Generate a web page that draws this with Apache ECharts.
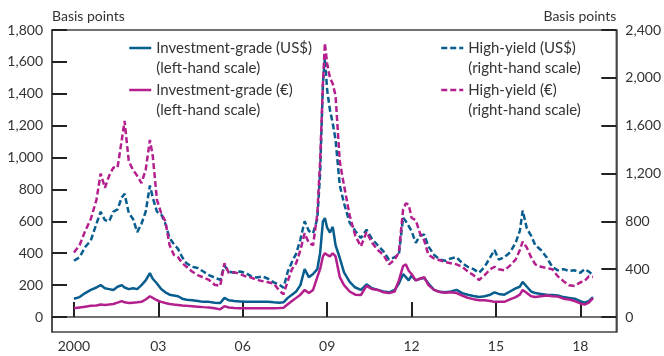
<!DOCTYPE html>
<html>
<head>
<meta charset="utf-8">
<script src="https://cdn.jsdelivr.net/npm/echarts@6/dist/echarts.min.js"></script>
<style>
  html, body { margin: 0; padding: 0; background: #fff; }
  #chart { width: 664px; height: 356px; }
</style>
</head>
<body>
<div id="chart"></div>
<script>
// dates as decimal years
const dates = [
  2000.0, 2000.2, 2000.4, 2000.6, 2000.8, 2000.95, 2001.1, 2001.25, 2001.4, 2001.55,
  2001.7, 2001.8, 2001.95, 2002.1, 2002.25, 2002.4, 2002.55, 2002.7, 2002.8, 2002.95,
  2003.1, 2003.25, 2003.4, 2003.55, 2003.7, 2003.85, 2004.0, 2004.2, 2004.4, 2004.6,
  2004.8, 2005.0, 2005.2, 2005.35, 2005.5, 2005.7, 2005.9, 2006.1, 2006.3, 2006.5,
  2006.7, 2006.9, 2007.1, 2007.3, 2007.45, 2007.6, 2007.75, 2007.9, 2008.05, 2008.2,
  2008.35, 2008.5, 2008.65, 2008.75, 2008.85, 2008.92, 2009.0, 2009.1, 2009.2, 2009.3,
  2009.45, 2009.6, 2009.8, 2010.0, 2010.2, 2010.4, 2010.6, 2010.8, 2011.0, 2011.2,
  2011.4, 2011.55, 2011.7, 2011.8, 2011.9, 2012.0, 2012.15, 2012.3, 2012.45, 2012.6,
  2012.8, 2013.0, 2013.2, 2013.4, 2013.6, 2013.8, 2014.0, 2014.2, 2014.4, 2014.6,
  2014.8, 2014.95, 2015.1, 2015.3, 2015.5, 2015.7, 2015.85, 2015.95, 2016.1, 2016.25,
  2016.4, 2016.6, 2016.8, 2017.0, 2017.2, 2017.4, 2017.6, 2017.8, 2018.0, 2018.15,
  2018.3, 2018.45
]

// left-hand scale
const igUsd = [
  115, 125, 150, 170, 185, 200, 180, 175, 170, 190,
  200, 185, 175, 180, 175, 200, 230, 275, 240, 210,
  175, 155, 140, 135, 130, 115, 108, 105, 100, 95,
  95, 90, 88, 120, 105, 100, 98, 95, 95, 95,
  95, 95, 92, 90, 92, 120, 140, 160, 200, 300,
  250, 270, 300, 400, 600, 620, 560, 530, 565, 450,
  370, 280, 220, 185, 170, 205, 180, 170, 160, 155,
  170, 210, 270, 250, 230, 260, 230, 240, 245, 210,
  170, 158, 155, 160, 170, 150, 140, 132, 125, 130,
  140, 155, 145, 140, 160, 180, 190, 220, 190, 160,
  150, 145, 140, 138, 135, 125, 120, 115, 100, 90,
  100, 125
]
const igEur = [
  55, 60, 65, 70, 72, 78, 75, 78, 82, 90,
  100, 92, 88, 90, 92, 95, 110, 130, 120, 105,
  95, 88, 82, 78, 75, 72, 70, 68, 65, 62,
  60, 55, 48, 68, 60, 56, 55, 55, 55, 55,
  55, 55, 55, 56, 58, 80, 100, 120, 140, 170,
  150, 170, 250, 300, 380, 400, 390, 380, 400, 380,
  250, 200, 160, 140, 138, 195, 175, 170, 155, 150,
  160, 230, 320, 330, 290, 270, 230, 240, 250, 200,
  170, 157, 152, 155, 150, 135, 120, 112, 105, 105,
  100, 95, 95, 95, 110, 125, 140, 170, 150, 130,
  125, 130, 135, 130, 128, 115, 110, 100, 85, 78,
  90, 118
]

// right-hand scale
const hyUsd = [
  470, 500, 585, 640, 780, 880, 810, 800, 880, 900,
  1000, 1030, 870, 820, 710, 780, 880, 1100, 1000, 880,
  860, 780, 660, 610, 570, 500, 450, 420, 410, 380,
  350, 330, 310, 430, 380, 370, 380, 370, 340, 330,
  340, 320, 290, 270, 245, 380, 460, 530, 650, 800,
  720, 700, 820, 1200, 1950, 2170, 1900, 1730, 1620, 1480,
  1100, 950, 790, 720, 660, 730, 650, 600, 550, 480,
  500, 520, 830, 800, 760, 720, 620, 680, 690, 590,
  520, 480, 470, 490, 500, 450, 420, 400, 370, 420,
  500, 560, 480, 500, 540, 620, 720, 890, 740, 680,
  600, 560, 500, 420, 390, 400, 385, 390, 370, 400,
  380, 350
]
const hyEur = [
  540, 600, 720, 820, 980, 1200, 1080, 1180, 1250, 1250,
  1480, 1640, 1300, 1230, 1180, 1120, 1230, 1480, 1350, 980,
  870, 800, 600, 520, 500, 450, 420, 380, 350, 330,
  310, 270, 260, 450, 370, 375, 360, 340, 330, 310,
  300, 290, 280, 220, 190, 300, 400, 450, 560, 700,
  620, 600, 860, 1300, 1950, 2290, 2120, 2000, 1950, 1850,
  1300, 1100, 850, 680, 590, 710, 620, 560, 520, 440,
  480, 540, 900, 950, 940, 830, 810, 700, 640, 520,
  490, 475, 460, 450, 440, 420, 380, 350, 310, 350,
  400, 420, 400, 390, 430, 480, 560, 630, 580, 500,
  440, 420, 410, 400, 340, 300, 265, 260, 290, 300,
  340, 335
]

const xTicks = [2000, 2003, 2006, 2009, 2012, 2015, 2018]
const leftTicks = [0, 200, 400, 600, 800, 1000, 1200, 1400, 1600, 1800]
const rightTicks = [0, 400, 800, 1200, 1600, 2000, 2400]

const BLUE = '#075d8e'
const PINK = '#b41f8e'
const FONT = 'Lato'
const TXT = '#333'

const pairs = vals => dates.map((d, i) => [d, vals[i]])

// one legend per item so each two-line label can sit where it does in the original
const legendBox = (name, left, top) => ({
  left: left,
  top: top,
  padding: 0,
  itemWidth: 22,
  itemHeight: 10,
  data: [name],
  selectedMode: false,
  itemStyle: { opacity: 0 },
  lineStyle: { width: 2.5 },
  formatter: n => '\n' + n.split('|')[0] + '\n' + n.split('|')[1],
  textStyle: { fontFamily: FONT, fontSize: 15, color: TXT, lineHeight: 20 }
})

const names = [
  'Investment-grade (US$)|(left-hand scale)',
  'Investment-grade (€)|(left-hand scale)',
  'High-yield (US$)|(right-hand scale)',
  'High-yield (€)|(right-hand scale)'
]

const chart = echarts.init(document.getElementById('chart'), null, { renderer: 'canvas' })

chart.setOption({
  animation: false,
  backgroundColor: '#fff',
  grid: {
    left: 52, right: 47, top: 30, bottom: 24,
    show: true, borderColor: '#444', borderWidth: 1.5
  },
  legend: [
    legendBox(names[0], 128, 18),
    legendBox(names[1], 128, 60),
    legendBox(names[2], 440, 18),
    legendBox(names[3], 440, 60)
  ],
  xAxis: {
    type: 'value',
    min: 1999.22,
    max: 2019.28,
    axisLine: { show: true, lineStyle: { color: '#444', width: 1.5 } },
    axisTick: {
      show: true, inside: true, length: 15, customValues: xTicks,
      lineStyle: { color: '#222', width: 2 }
    },
    axisLabel: {
      customValues: xTicks,
      margin: 7,
      fontFamily: FONT, fontSize: 14, color: TXT,
      formatter: v => v === 2000 ? '2000' : String(v).slice(2)
    },
    splitLine: { show: false }
  },
  yAxis: [
    {
      type: 'value',
      min: -94,
      max: 1800,
      name: 'Basis points',
      nameLocation: 'end',
      nameGap: 14,
      nameTextStyle: { fontFamily: FONT, fontSize: 14, color: TXT, align: 'left', verticalAlign: 'middle' },
      axisLine: { show: true, lineStyle: { color: '#444', width: 1.5 } },
      axisTick: {
        show: true, inside: true, length: 15, customValues: leftTicks,
        lineStyle: { color: '#222', width: 2 }
      },
      axisLabel: {
        customValues: leftTicks,
        margin: 9,
        fontFamily: FONT, fontSize: 14, color: TXT,
        formatter: v => v.toLocaleString('en-US')
      },
      splitLine: { show: false }
    },
    {
      type: 'value',
      min: -125.4,
      max: 2400,
      position: 'right',
      name: 'Basis points',
      nameLocation: 'end',
      nameGap: 14,
      nameTextStyle: { fontFamily: FONT, fontSize: 14, color: TXT, align: 'right', verticalAlign: 'middle' },
      axisLine: { show: true, lineStyle: { color: '#444', width: 1.5 } },
      axisTick: {
        show: true, inside: true, length: 15, customValues: rightTicks,
        lineStyle: { color: '#222', width: 2 }
      },
      axisLabel: {
        customValues: rightTicks,
        margin: 9,
        fontFamily: FONT, fontSize: 14, color: TXT,
        formatter: v => v.toLocaleString('en-US')
      },
      splitLine: { show: false }
    }
  ],
  series: [
    {
      name: names[0], type: 'line', yAxisIndex: 0, data: pairs(igUsd),
      showSymbol: false, symbol: 'none', z: 3,
      lineStyle: { color: BLUE, width: 2.5 }, itemStyle: { color: BLUE }
    },
    {
      name: names[1], type: 'line', yAxisIndex: 0, data: pairs(igEur),
      showSymbol: false, symbol: 'none', z: 4,
      lineStyle: { color: PINK, width: 2.5 }, itemStyle: { color: PINK }
    },
    {
      name: names[2], type: 'line', yAxisIndex: 1, data: pairs(hyUsd),
      showSymbol: false, symbol: 'none', z: 2,
      lineStyle: { color: BLUE, width: 2.5, type: [6, 3] }, itemStyle: { color: BLUE }
    },
    {
      name: names[3], type: 'line', yAxisIndex: 1, data: pairs(hyEur),
      showSymbol: false, symbol: 'none', z: 2,
      lineStyle: { color: PINK, width: 2.5, type: [6, 3] }, itemStyle: { color: PINK }
    }
  ]
})
</script>
</body>
</html>
